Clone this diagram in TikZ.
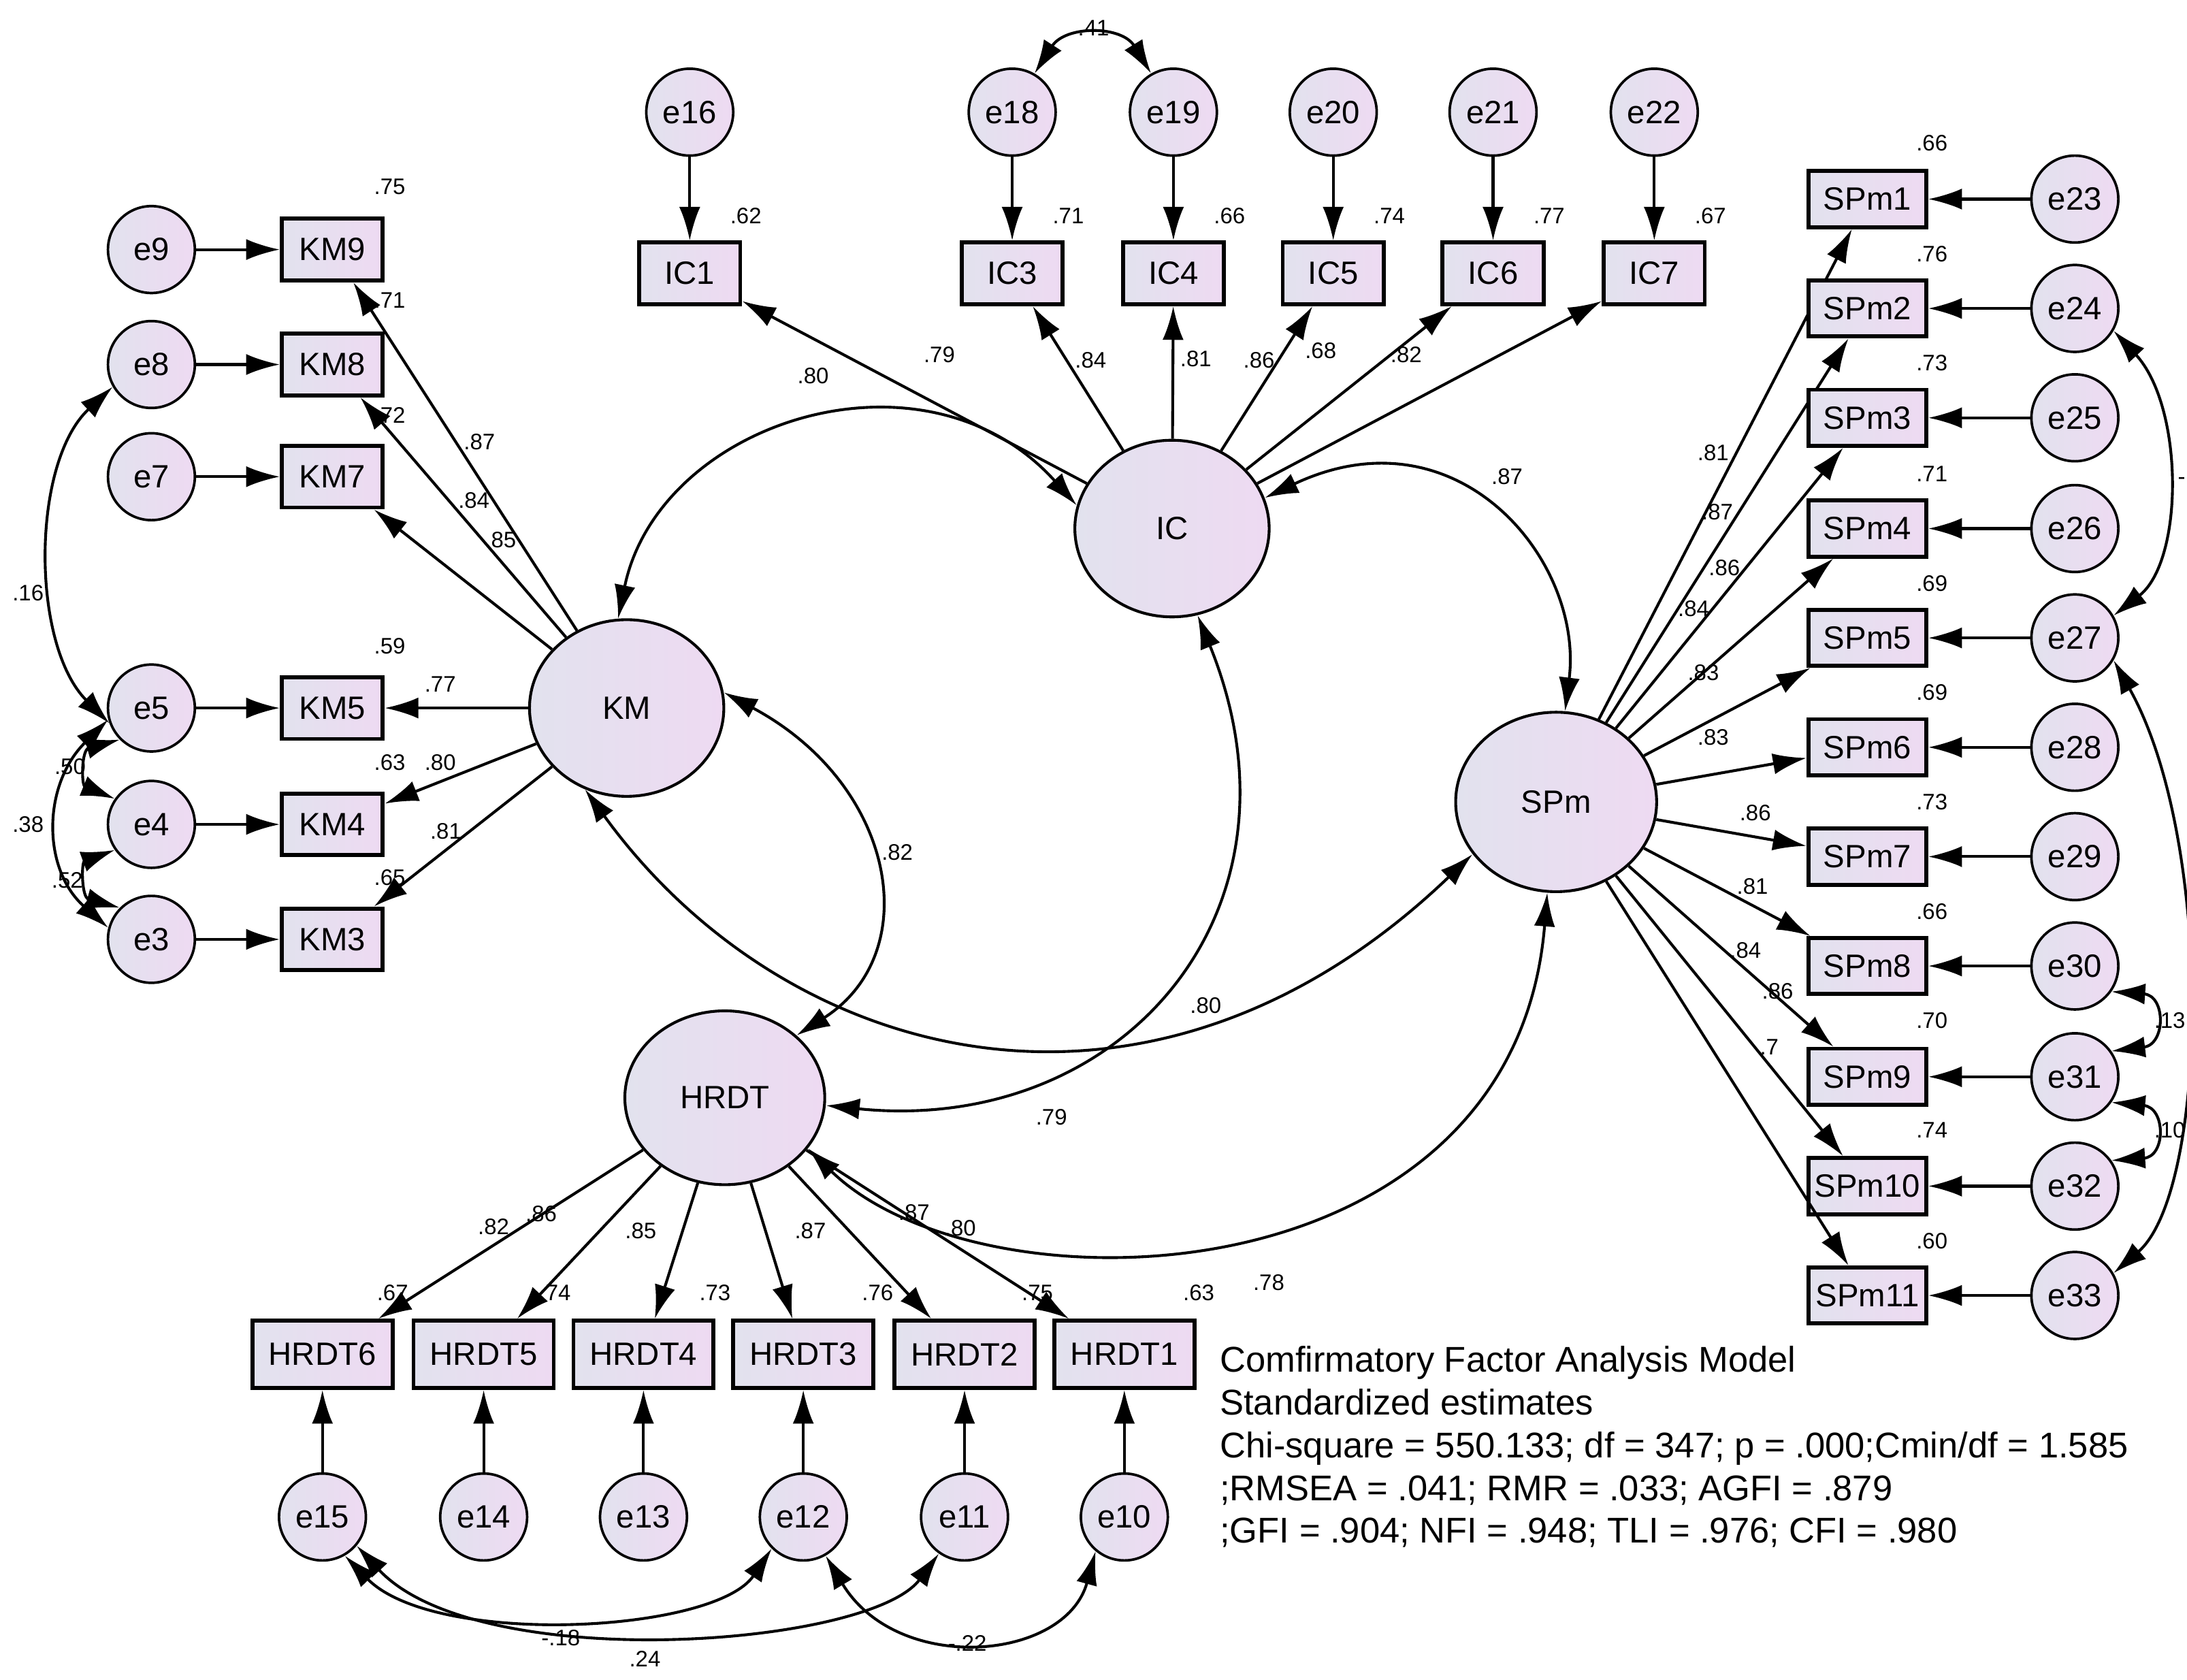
\documentclass[tikz,border=0pt]{standalone}
\usepackage{fontspec}
\setmainfont{Liberation Sans}
\usetikzlibrary{arrows.meta}
\definecolor{fillA}{RGB}{226,226,238}
\definecolor{fillB}{RGB}{238,218,242}
\begin{document}
\begin{tikzpicture}[x=1pt,y=-1pt,
  every node/.style={font=\fontsize{23}{25}\selectfont},
  err/.style={circle,draw,line width=1.8pt,minimum size=62pt,inner sep=0pt,left color=fillA,right color=fillB},
  obs/.style={rectangle,draw,line width=2.8pt,minimum width=72pt,minimum height=44pt,inner sep=1pt,left color=fillA,right color=fillB},
  latent/.style={circle,draw,line width=2pt,left color=fillA,right color=fillB},
  lbl/.style={font=\fontsize{16}{18}\selectfont,inner sep=0pt},
  path/.style={line width=2pt,-{Latex[length=24pt,width=15pt]}},
  cov/.style={line width=2pt,{Latex[length=24pt,width=15pt]}-{Latex[length=24pt,width=15pt]}}]
\useasboundingbox (0,0) rectangle (1560,1198);
%% latent variables
\node[latent,minimum size=126pt,xscale=1.1] (ic) at (836,377) {};
\node at (836,377) (ict) {IC};
\node[latent,minimum size=126pt,xscale=1.1] (km) at (447,505) {};
\node at (447,505) (kmt) {KM};
\node[latent,minimum size=128pt,xscale=1.12] (spm) at (1110,572) {};
\node at (1110,572) (spmt) {SPm};
\node[latent,minimum size=124pt,xscale=1.15] (hrdt) at (517,783) {};
\node at (517,783) (hrdtt) {HRDT};
%% IC indicators
\foreach \n/\e/\x in {1/16/492,3/18/722,4/19/837,5/20/951,6/21/1065,7/22/1180}{
  \node[err] (e\e) at (\x,80) {e\e};
  \node[obs] (ic\n) at (\x,195) {IC\n};
  \draw[path] (e\e) -- (ic\n);
  \draw[path] (ic) -- (ic\n);
}
%% KM indicators
\foreach \n/\e/\y in {9/9/178,8/8/260,7/7/340,5/5/505,4/4/588,3/3/670}{
  \node[err] (e\e) at (108,\y) {e\e};
  \node[obs] (km\n) at (237,\y) {KM\n};
  \draw[path] (e\e) -- (km\n);
  \draw[path] (km) -- (km\n);
}
%% SPm indicators
\foreach \n/\y [evaluate=\n as \e using int(\n+22)] in {1/142,2/220,3/298,4/377,5/455,6/533,7/611,8/689,9/768,10/846,11/924}{
  \node[err] (e\e) at (1480,\y) {e\e};
  \node[obs,minimum width=84pt,minimum height=40pt] (spm\n) at (1332,\y) {SPm\n};
  \draw[path] (e\e) -- (spm\n);
  \draw[path] (spm) -- (spm\n);
}
%% HRDT indicators
\foreach \n/\e/\x in {6/15/230,5/14/345,4/13/459,3/12/573,2/11/688,1/10/802}{
  \node[err] (e\e) at (\x,1082) {e\e};
  \node[obs,minimum width=100pt,minimum height=48pt] (hrdt\n) at (\x,966) {HRDT\n};
  \draw[path] (e\e) -- (hrdt\n);
  \draw[path] (hrdt) -- (hrdt\n);
}
%% covariances between factors
\draw[cov] (ic.165) .. controls (660,240) and (470,300) .. (km.95);
\draw[cov] (ic.20) .. controls (1040,290) and (1130,400) .. (spm.85);
\draw[cov] (km.10) .. controls (640,560) and (660,680) .. (hrdt.45);
\draw[cov] (km.245) .. controls (560,760) and (820,830) .. (spm.215);
\draw[cov] (ic.285) .. controls (940,650) and (800,810) .. (hrdt.355);
\draw[cov] (hrdt.325) .. controls (700,940) and (1080,930) .. (spm.265);
%% error covariances
\draw[cov] (e18.60) .. controls (760,18) and (800,18) .. (e19.120);
\draw[cov] (e8.210) .. controls (22,330) and (22,460) .. (e5.200);
\draw[cov] (e5.225) .. controls (58,535) and (58,560) .. (e4.145);
\draw[cov] (e4.215) .. controls (58,615) and (58,640) .. (e3.135);
\draw[cov] (e5.195) .. controls (30,560) and (30,620) .. (e3.165);
\draw[cov] (e24.330) .. controls (1558,290) and (1558,400) .. (e27.30);
\draw[cov] (e27.330) .. controls (1580,600) and (1575,850) .. (e33.30);
\draw[cov] (e30.325) .. controls (1545,710) and (1545,745) .. (e31.35);
\draw[cov] (e31.325) .. controls (1545,790) and (1545,825) .. (e32.35);
\draw[cov] (e15.300) .. controls (310,1175) and (510,1165) .. (e12.225);
\draw[cov] (e15.320) .. controls (340,1195) and (620,1175) .. (e11.235);
\draw[cov] (e12.300) .. controls (640,1195) and (760,1185) .. (e10.230);
%% estimates
\foreach \x/\y/\t [count=\i] in {
  780/20/.41, 580/268/.80, 1075/340/.87, 640/608/.82, 860/717/.80, 750/797/.79, 905/915/.78,
  670/253/.79, 778/257/.84, 853/256/.81, 898/257/.86, 942/250/.68, 1003/253/.82,
  532/154/.62, 762/154/.71, 877/154/.66, 991/154/.74, 1105/154/.77, 1220/154/.67,
  278/133/.75, 278/214/.71, 278/296/.72, 278/461/.59, 278/544/.63, 278/626/.65,
  342/315/.87, 338/357/.84, 357/385/.85, 314/488/.77, 314/544/.80, 318/593/.81,
  20/423/.16, 50/547/.50, 20/588/.38, 48/628/.52,
  1378/102/.66, 1378/181/.76, 1378/259/.73, 1378/338/.71, 1378/416/.69, 1378/494/.69,
  1378/572/.73, 1378/650/.66, 1378/728/.70, 1378/806/.74, 1378/885/.60,
  1222/323/.81, 1225/365/.87, 1230/405/.86, 1208/434/.84, 1215/480/.83, 1222/526/.83,
  1252/580/.86, 1250/632/.81, 1245/678/.84, 1268/707/.86, 1262/747/.7,
  352/875/.82, 386/866/.86, 457/878/.85, 578/878/.87, 652/865/.87, 685/876/.80,
  280/922/.67, 396/922/.74, 510/922/.73, 626/922/.76, 740/922/.75, 855/922/.63,
  400/1168/-.18, 460/1183/.24, 690/1172/-.22}
  \node[lbl] (lb\i) at (\x,\y) {\t};
\node[lbl,anchor=east] (lbr1) at (1559,343) {-};
\node[lbl,anchor=east] (lbr2) at (1559,728) {.13};
\node[lbl,anchor=east] (lbr3) at (1559,806) {.10};
%% fit statistics
\node[anchor=north west,align=left,inner sep=0pt,font=\fontsize{25.5}{30.5}\selectfont] (fit) at (870,960)
  {Comfirmatory Factor Analysis Model\\
   Standardized estimates\\
   Chi-square = 550.133; df = 347; p = .000;Cmin/df = 1.585\\
   ;RMSEA = .041; RMR = .033; AGFI = .879\\
   ;GFI = .904; NFI = .948; TLI = .976; CFI = .980};
\end{tikzpicture}
\end{document}
